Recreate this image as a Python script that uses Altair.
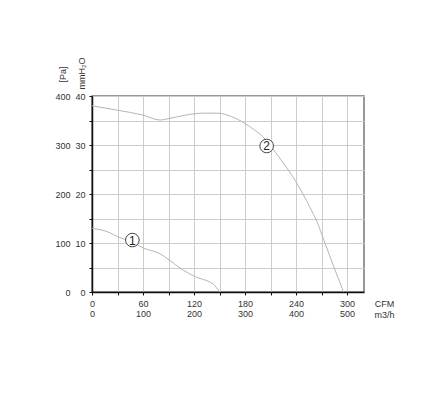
import altair as alt
import pandas as pd

# Curve 1 (CFM vs mmH2O)
c1_cfm = [0, 21, 30, 47, 60, 80, 91, 107, 122, 130, 138, 144, 148, 150]
c1_mm = [13.0, 12.1, 11.3, 10.2, 9.0, 7.8, 6.5, 4.5, 3.1, 2.6, 2.1, 1.4, 0.5, 0.0]

# Curve 2 (CFM vs mmH2O)
c2_cfm = [0, 30, 60, 80, 88, 110, 130, 148, 164, 180, 190, 201, 211, 221, 231, 241, 256, 265, 273, 285, 296]
c2_mm = [38.0, 37.1, 36.1, 35.1, 35.3, 36.1, 36.5, 36.5, 35.8, 34.4, 33.2, 31.7, 29.6, 27.3, 24.9, 22.2, 17.4, 14.2, 10.5, 4.9, 0.0]

# Curve labels
lab_text = ["1", "2"]
lab_cfm = [47.5, 205.5]
lab_mm = [10.6, 29.8]

x_ticks = [0, 30, 60, 90, 120, 150, 180, 210, 240, 270, 300]
y_ticks = [0, 5, 10, 15, 20, 25, 30, 35, 40]
pa_ticks = [0, 10, 20, 30, 40]

curves = pd.DataFrame({
    "cfm": c1_cfm + c2_cfm,
    "mm": c1_mm + c2_mm,
    "curve": ["1"] * len(c1_cfm) + ["2"] * len(c2_cfm),
})
labels = pd.DataFrame({"cfm": lab_cfm, "mm": lab_mm, "t": lab_text})

FONT = "Liberation Sans, Arial, Helvetica, sans-serif"

xscale = alt.Scale(domain=[0, 320], nice=False, zero=False)
yscale = alt.Scale(domain=[0, 40], nice=False)

x_axis = alt.Axis(
    values=x_ticks, orient="bottom",
    labelExpr="datum.value % 60 == 0 ? [datum.label, format(datum.value * 5 / 3, 'd')] : ''",
    grid=True, gridColor="#cccccc", gridWidth=1,
    domainColor="#111111", domainWidth=1.5,
    tickColor="#111111", tickSize=3, tickWidth=1,
    labelFont=FONT, labelFontSize=9, labelColor="#333333",
    labelPadding=4, labelLineHeight=10, labelFlush=False,
    title=["CFM", "m3/h"], titleFont=FONT, titleFontSize=9, titleFontWeight="normal",
    titleColor="#333333", titleAlign="center", titleBaseline="top",
    titleX=292, titleY=7, titleLineHeight=11,
)

y_axis = alt.Axis(
    values=y_ticks, orient="left",
    labelExpr="datum.value % 10 == 0 ? datum.label : ''",
    grid=True, gridColor="#cccccc", gridWidth=1,
    domainColor="#111111", domainWidth=1.5,
    tickColor="#111111", tickSize=3, tickWidth=1,
    labelFont=FONT, labelFontSize=9, labelColor="#333333", labelPadding=4,
    labelFlush=False,
    title="mmH₂O", titleFont=FONT, titleFontSize=9, titleFontWeight="normal",
    titleColor="#333333", titleAngle=270, titleAlign="center", titleBaseline="middle",
    titleX=-11, titleY=-23,
)

pa_axis = alt.Axis(
    values=pa_ticks, orient="left", offset=18,
    labelExpr="format(datum.value * 10, 'd')",
    grid=False, domain=False, ticks=False,
    labelFont=FONT, labelFontSize=9, labelColor="#333333", labelPadding=4,
    labelFlush=False,
    title="[Pa]", titleFont=FONT, titleFontSize=9, titleFontWeight="normal",
    titleColor="#333333", titleAngle=270, titleAlign="center", titleBaseline="middle",
    titleX=-12, titleY=-22,
)

lines = alt.Chart(curves).mark_line(color="#b5b5b5", strokeWidth=1, interpolate="monotone").encode(
    x=alt.X("cfm:Q", scale=xscale, axis=x_axis),
    y=alt.Y("mm:Q", scale=yscale, axis=y_axis),
    detail="curve:N",
)

circles = alt.Chart(labels).mark_point(
    shape="circle", size=185, filled=False, fill="white", fillOpacity=1,
    stroke="#444444", strokeWidth=1, opacity=1,
).encode(
    x=alt.X("cfm:Q", scale=xscale, axis=x_axis),
    y=alt.Y("mm:Q", scale=yscale, axis=pa_axis),
)

digits = alt.Chart(labels).mark_text(
    font=FONT, fontSize=12, color="#222222", align="center", baseline="middle", dy=0.5,
).encode(
    x=alt.X("cfm:Q", scale=xscale, axis=x_axis),
    y=alt.Y("mm:Q", scale=yscale, axis=None),
    text="t:N",
)

chart = alt.layer(lines, circles, digits).resolve_axis(y="independent").properties(
    width=272, height=196,
    autosize=alt.AutoSizeParams(type="none"),
    padding={"left": 84, "top": 88, "right": 74, "bottom": 100},
    background="white",
).configure_view(stroke="#777777", strokeWidth=1.5)

chart.save("out.html", embed_options={"renderer": "svg", "actions": False})
